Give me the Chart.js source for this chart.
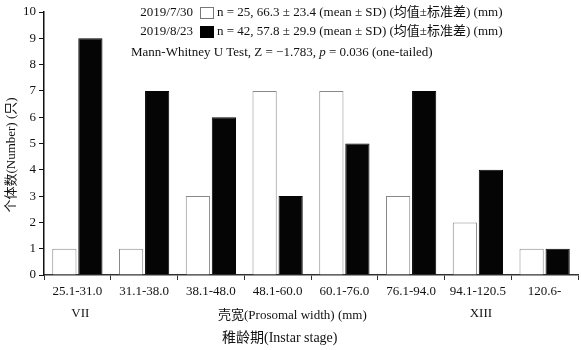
<!DOCTYPE html>
<html>
<head>
<meta charset="utf-8">
<script src="https://cdn.jsdelivr.net/npm/chart.js@4"></script>
<style>
  html, body { margin: 0; padding: 0; background: #fff; }
  #wrap { width: 581px; height: 350px; position: relative; }
</style>
</head>
<body>
<div id="wrap"><canvas id="chart" width="581" height="350"></canvas></div>
<script>
// ===== Data =====
const categories = ["25.1-31.0", "31.1-38.0", "38.1-48.0", "48.1-60.0", "60.1-76.0", "76.1-94.0", "94.1-120.5", "120.6-"];
const july30 = [1, 1, 3, 7, 7, 3, 2, 1];
const aug23 = [9, 7, 6, 3, 5, 7, 4, 1];
const seriesNames = ["2019/7/30", "2019/8/23"];
const seriesNotes = [
  "n = 25, 66.3 ± 23.4 (mean ± SD) (均值±标准差) (mm)",
  "n = 42, 57.8 ± 29.9 (mean ± SD) (均值±标准差) (mm)"
];
const stageLabels = [[0, "VII"], [6, "XIII"]];

const FONT = "'Liberation Serif', 'Noto Sans CJK SC', serif";

// ===== Extra text: legend, test note, titles =====
const annotations = {
  id: "annotations",
  afterDraw(chart) {
    const ctx = chart.ctx;
    const x = chart.scales.x;
    ctx.save();
    ctx.fillStyle = "#111";
    ctx.font = "13px " + FONT;
    ctx.textBaseline = "middle";

    // legend rows
    const rows = [[13, "#fff", "#777"], [32, "#000", "#000"]];
    rows.forEach(([y, fill, stroke], i) => {
      ctx.textAlign = "right";
      ctx.fillText(seriesNames[i], 193, y);
      ctx.fillStyle = fill;
      ctx.fillRect(200.5, y - 5.5, 13, 11);
      ctx.strokeStyle = stroke;
      ctx.lineWidth = 1;
      ctx.strokeRect(200.5, y - 5.5, 13, 11);
      ctx.fillStyle = "#111";
      ctx.textAlign = "left";
      ctx.fillText(seriesNotes[i], 217, y);
    });

    // Mann-Whitney line with italic p
    let tx = 131;
    const parts = [["Mann-Whitney U Test, Z = \u22121.783, ", ""], ["p", "italic "], [" = 0.036 (one-tailed)", ""]];
    parts.forEach(([t, style]) => {
      ctx.font = style + "13px " + FONT;
      ctx.fillText(t, tx, 53);
      tx += ctx.measureText(t).width;
    });

    // stage labels under categories
    ctx.font = "13px " + FONT;
    ctx.textAlign = "center";
    stageLabels.forEach(([idx, t]) => {
      ctx.fillText(t, x.getPixelForValue(idx) + 3, 314);
    });

    // x titles
    ctx.textAlign = "left";
    ctx.fillText("壳宽(Prosomal width) (mm)", 218, 316);
    ctx.font = "14px " + FONT;
    ctx.fillText("稚龄期(Instar stage)", 222, 338);

    // y title
    ctx.font = "13px " + FONT;
    ctx.translate(12, 155);
    ctx.rotate(-Math.PI / 2);
    ctx.textAlign = "center";
    ctx.fillText("个体数(Number) (只)", 0, 0);
    ctx.restore();
  }
};

// ===== Chart =====
new Chart(document.getElementById("chart").getContext("2d"), {
  type: "bar",
  data: {
    labels: categories,
    datasets: [
      {
        label: seriesNames[0],
        data: july30,
        backgroundColor: "#fff",
        borderColor: "#888",
        borderWidth: 1
      },
      {
        label: seriesNames[1],
        data: aug23,
        backgroundColor: "#050505",
        borderColor: "#050505",
        borderWidth: 1
      }
    ]
  },
  options: {
    responsive: false,
    animation: false,
    categoryPercentage: 0.78,
    barPercentage: 0.93,
    layout: { padding: { top: 12, right: 3, left: 0, bottom: 0 } },
    plugins: { legend: { display: false }, tooltip: { enabled: false } },
    scales: {
      x: {
        afterFit: s => { s.height = 75; },
        grid: { drawOnChartArea: false, drawTicks: true, tickLength: 5, color: "#333", offset: true },
        border: { color: "#333", width: 1.5 },
        ticks: { color: "#111", font: { family: FONT, size: 13 }, padding: 4, maxRotation: 0, autoSkip: false }
      },
      y: {
        min: 0,
        max: 10,
        afterFit: s => { s.width = 44; },
        grid: { drawOnChartArea: false, drawTicks: true, tickLength: 5, color: "#111" },
        border: { color: "#111", width: 1.5 },
        ticks: { stepSize: 1, color: "#111", font: { family: FONT, size: 13 }, padding: 3 }
      }
    }
  },
  plugins: [annotations]
});
</script>
</body>
</html>
